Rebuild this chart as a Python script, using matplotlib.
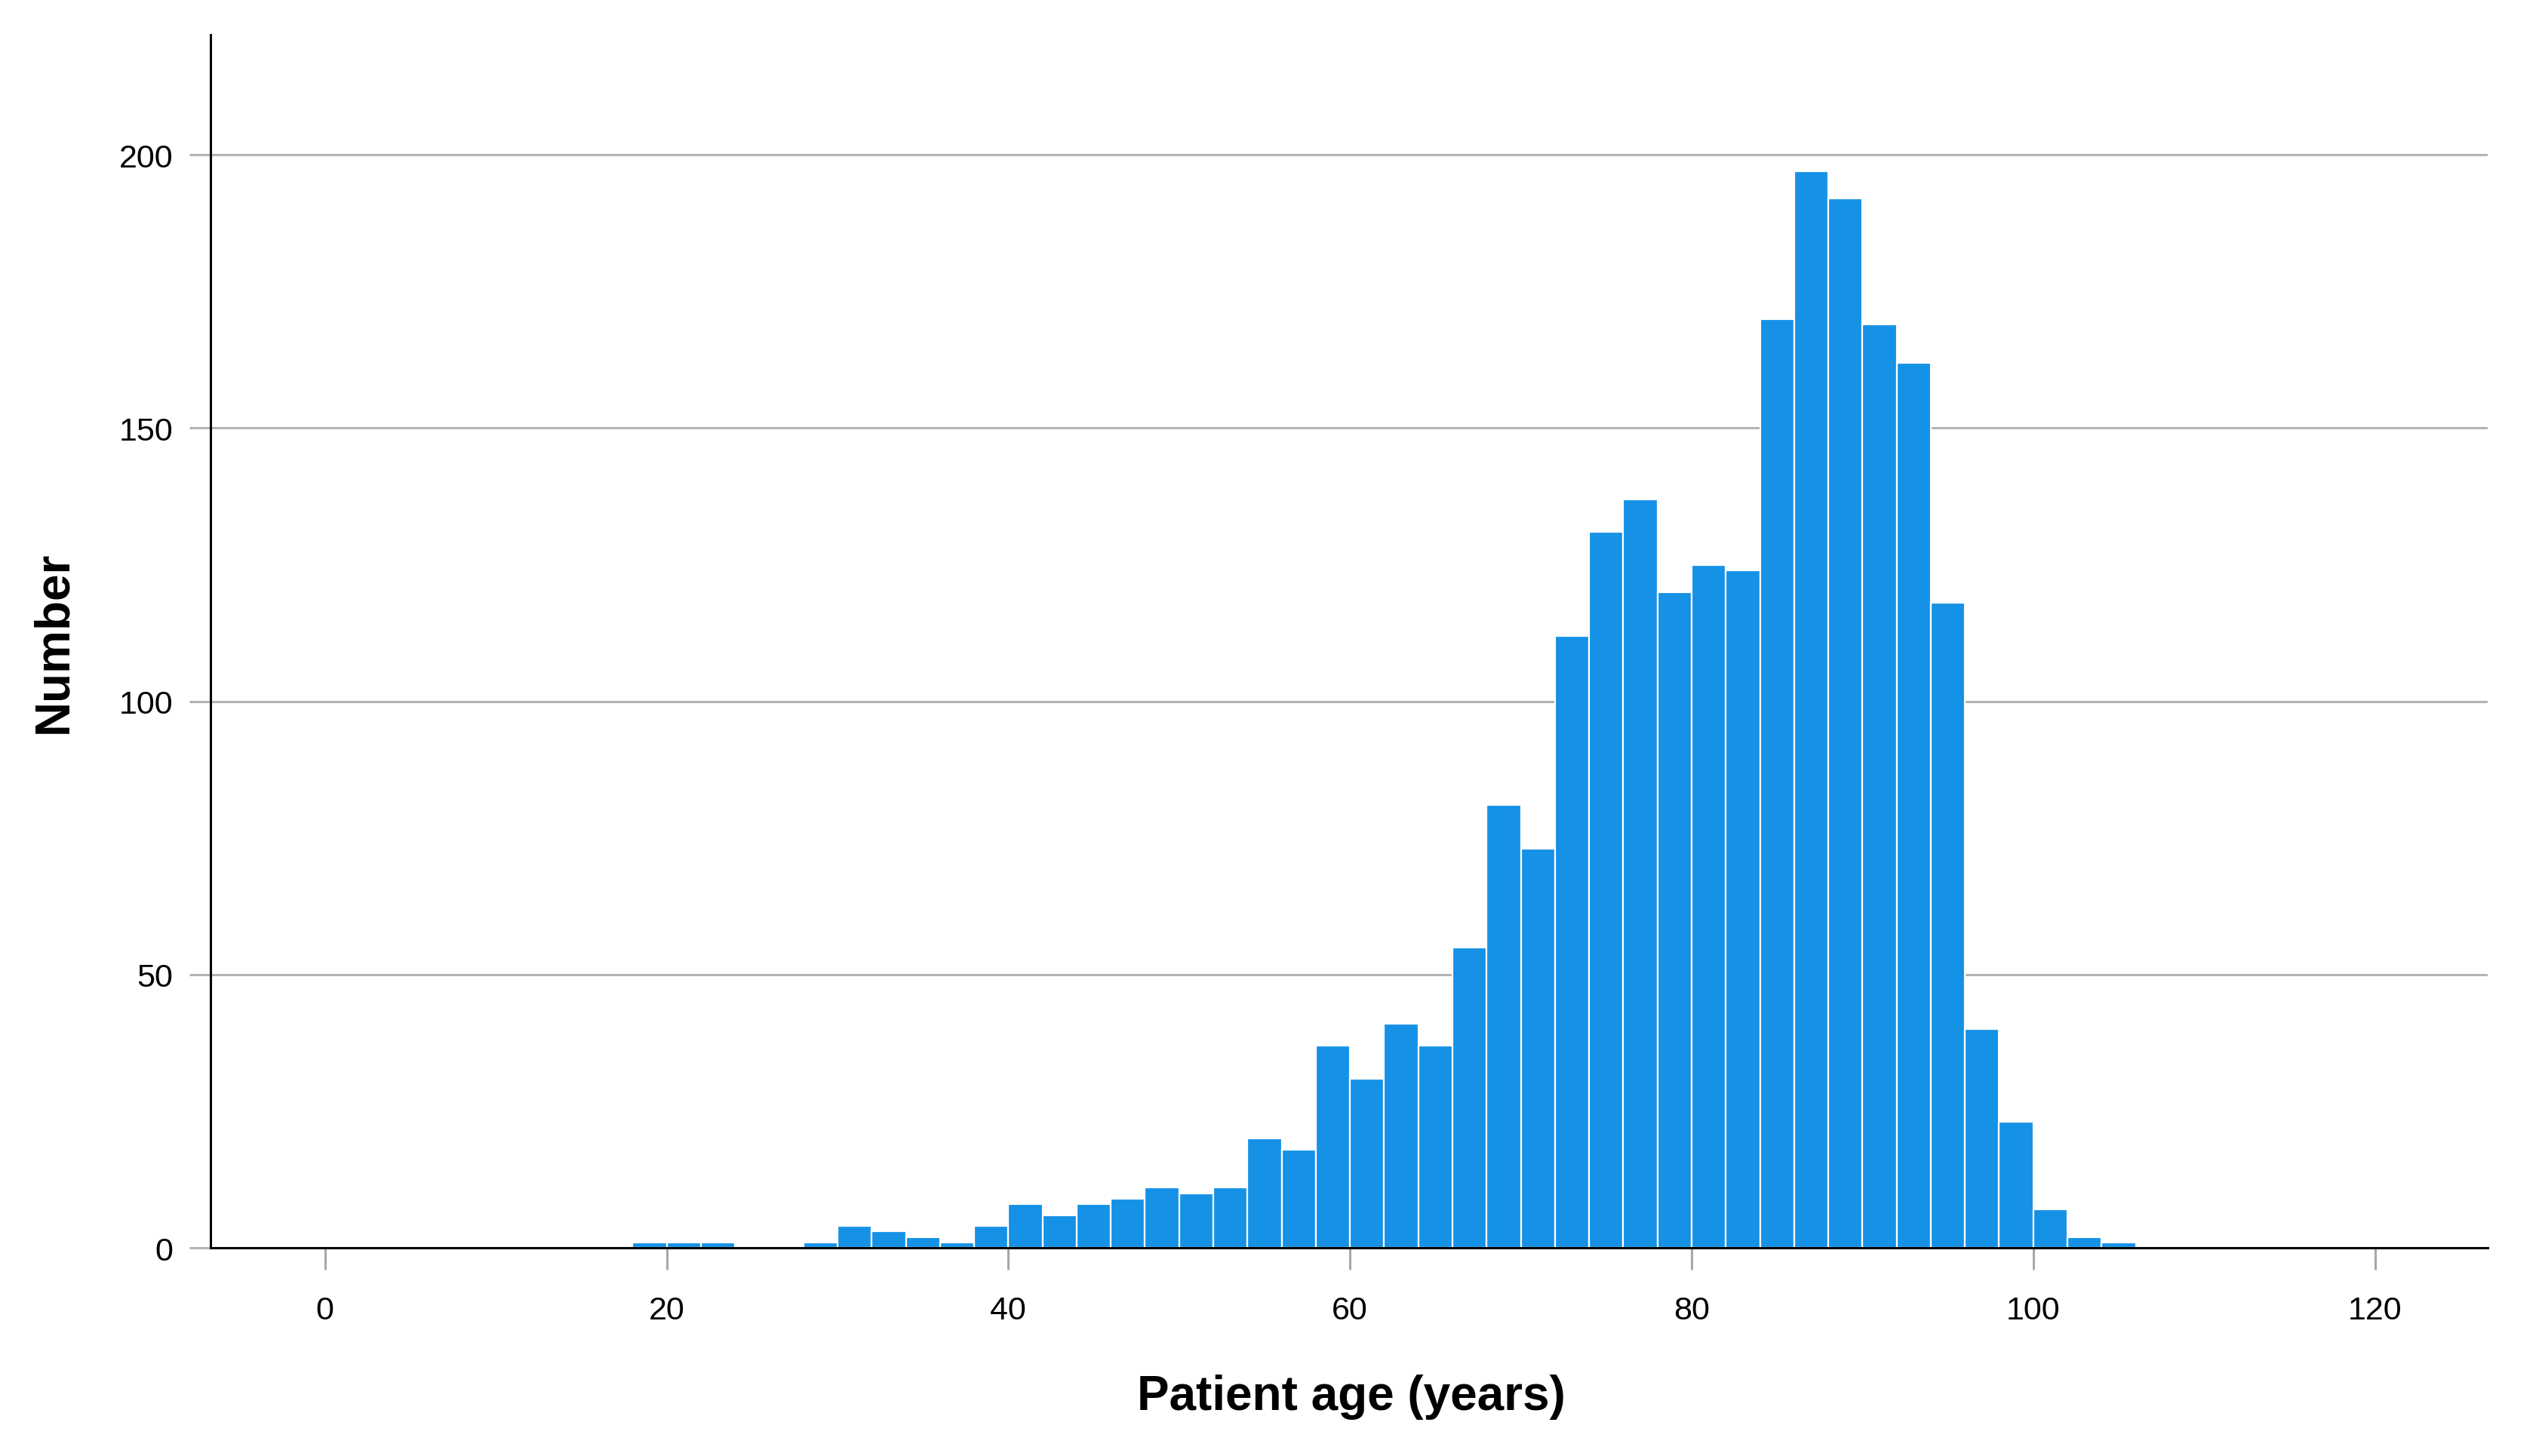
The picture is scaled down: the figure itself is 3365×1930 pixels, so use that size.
import matplotlib
matplotlib.use("Agg")
import matplotlib.pyplot as plt

# histogram of patient ages, 2-year bins starting at 18
bin_starts = [18, 20, 22, 24, 26, 28, 30, 32, 34, 36, 38, 40, 42, 44, 46, 48,
              50, 52, 54, 56, 58, 60, 62, 64, 66, 68, 70, 72, 74, 76, 78, 80,
              82, 84, 86, 88, 90, 92, 94, 96, 98, 100, 102, 104]
counts = [1, 1, 1, 0, 0, 1, 4, 3, 2, 1, 4, 8, 6, 8, 9, 11,
          10, 11, 20, 18, 37, 31, 41, 37, 55, 81, 73, 112, 131, 137, 120, 125,
          124, 170, 197, 192, 169, 162, 118, 40, 23, 7, 2, 1]
bin_width = 2

x_ticks = [0, 20, 40, 60, 80, 100, 120]
y_ticks = [0, 50, 100, 150, 200]

plt.rcParams["font.family"] = ["Liberation Sans", "DejaVu Sans"]

fig = plt.figure(figsize=(16.83, 9.655), dpi=200)
ax = fig.add_axes([0.0829, 0.1429, 0.8966, 0.8328])

ax.bar(bin_starts, counts, width=bin_width, align="edge",
       color="#1591E6", edgecolor="white", linewidth=0.8, zorder=3)

ax.set_xlim(-6.7, 126.6)
ax.set_ylim(0, 222)

ax.set_xticks(x_ticks)
ax.set_yticks(y_ticks)
ax.grid(axis="y", color="#B4B4B4", linewidth=1.1, zorder=0)

ax.tick_params(axis="x", length=10.5, width=1.1, color="#A8A8A8",
               labelsize=15.5, pad=12)
ax.tick_params(axis="y", length=10, width=1.1, color="#B4B4B4",
               labelsize=15.5, pad=8)

for side in ["top", "right"]:
    ax.spines[side].set_visible(False)
ax.spines["left"].set_linewidth(1.1)
ax.spines["bottom"].set_linewidth(1.1)
ax.spines["left"].set_zorder(4)
ax.spines["bottom"].set_zorder(4)

ax.set_xlabel("Patient age (years)", fontsize=23, fontweight="bold")
ax.set_ylabel("Number", fontsize=23, fontweight="bold")
ax.xaxis.set_label_coords(0.501, -0.104)
ax.yaxis.set_label_coords(-0.059, 0.5)

fig.savefig("out.png", dpi=200)
